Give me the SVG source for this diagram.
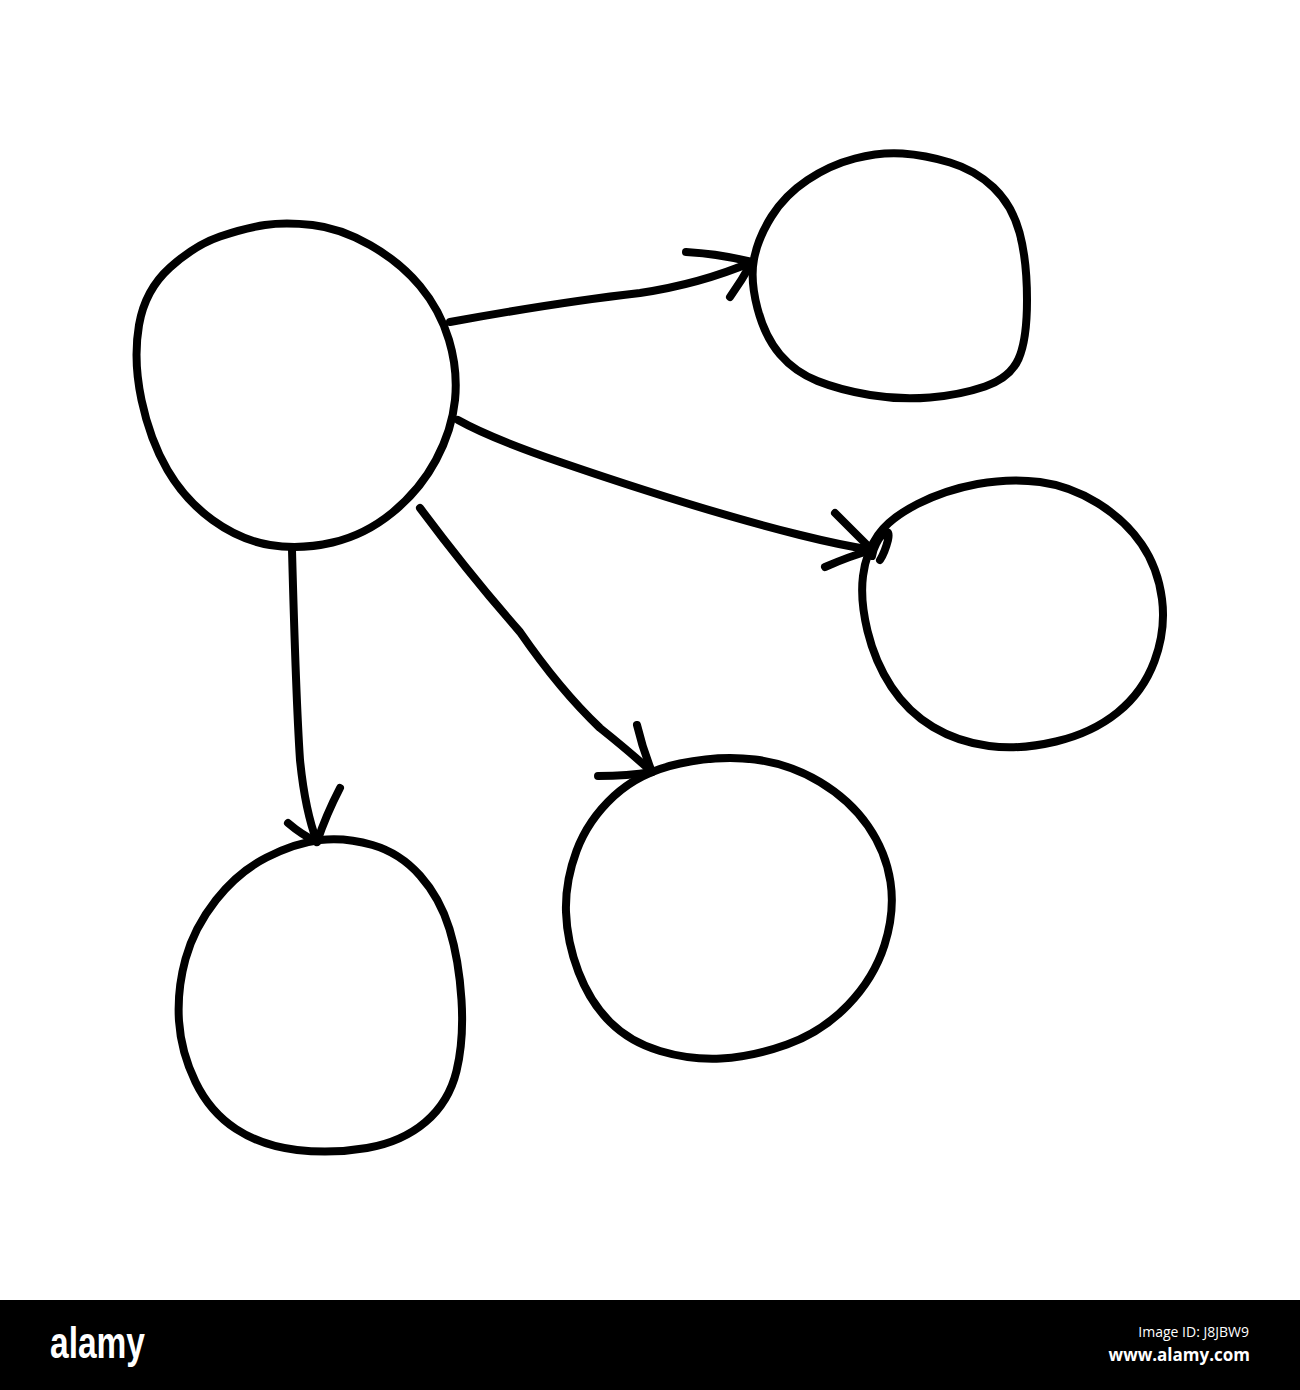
<svg xmlns="http://www.w3.org/2000/svg" width="1300" height="1390" viewBox="0 0 1300 1390">
<style>
.ink{fill:none;stroke:#000;stroke-width:8;stroke-linecap:round;stroke-linejoin:round}
.logo{fill:#fff;font-family:"Liberation Sans",Arial,sans-serif;font-weight:bold}
.meta{fill:#fff;font-family:"Open Sans","DejaVu Sans",sans-serif}
</style>
<rect width="1300" height="1390" fill="#fff"/>
<g id="node-center">
<path class="ink" d="M265,225 Q285,222 312.5,225 Q340,228 370,245 Q400,262 420,286 Q440,310 449,340 Q458,370 455,400 Q452,430 436,460 Q420,490 392.5,512.5 Q365,535 332.5,542.5 Q300,550 270,545 Q240,540 212.5,520 Q185,500 167.5,470 Q150,440 141.5,400 Q133,360 139,325 Q145,290 170,267.5 Q195,245 220,236.5 Q245,228 265,225 Z"/>
</g>
<g id="node-top-right">
<path class="ink" d="M855,158.5 Q880,152 902.5,153.5 Q925,155 950,162.5 Q975,170 993.5,187.5 Q1012,205 1019.5,232.5 Q1027,260 1027,300 Q1027,340 1018.5,359 Q1010,378 985,386.5 Q960,395 930,397.5 Q900,400 870,395 Q840,390 817.5,381 Q795,372 780,354.5 Q765,337 757.5,308.5 Q750,280 754,259 Q758,238 771.5,216.5 Q785,195 807.5,180 Q830,165 855,158.5 Z"/>
</g>
<g id="node-right">
<path class="ink" d="M977.5,484 Q1010,478 1040,482 Q1070,486 1097.5,503 Q1125,520 1141.5,544 Q1158,568 1162,599 Q1166,630 1154.5,661 Q1143,692 1117.5,712.5 Q1092,733 1056,741.5 Q1020,750 989,746 Q958,742 933,727 Q908,712 891.5,687 Q875,662 867.5,631 Q860,600 863,576 Q866,552 878,535 Q890,518 917.5,504 Q945,490 977.5,484 Z"/>
</g>
<g id="node-bottom-middle">
<path class="ink" d="M680,763.5 Q720,755 755,759.5 Q790,764 820,782 Q850,800 868,826 Q886,852 890.5,882 Q895,912 884.5,945 Q874,978 848,1005 Q822,1032 787,1044.5 Q752,1057 721,1058.5 Q690,1060 660,1051 Q630,1042 610,1022 Q590,1002 578.5,972 Q567,942 566,912 Q565,882 576.5,851 Q588,820 614,796 Q640,772 680,763.5 Z"/>
</g>
<g id="node-bottom-left">
<path class="ink" d="M320,840 Q345,837 372.5,845 Q400,853 420,875.5 Q440,898 449.5,929 Q459,960 461.5,1000 Q464,1040 456.5,1071 Q449,1102 425.5,1122 Q402,1142 367,1148 Q332,1154 297,1150 Q262,1146 236,1129 Q210,1112 195.5,1082 Q181,1052 179,1021 Q177,990 185.5,959 Q194,928 216,900 Q238,872 266.5,857.5 Q295,843 320,840 Z"/>
</g>
<g id="connectors">
<path class="ink" d="M450,322 Q560,302 640,293 Q700,284 752,262"/>
<path class="ink" d="M686,252 Q720,254 752,262 M730,297 Q742,280 752,262"/>
<path class="ink" d="M458,420 Q490,438 560,462 Q700,510 800,535 Q840,545 872,550"/>
<path class="ink" d="M835,513 L872,550 M825,567 Q850,556 872,550 M872,556 C875,538 892,522 888,540 C885,552 880,560 880,560"/>
<path class="ink" d="M420,508 Q470,575 520,632 Q560,690 600,728 Q630,752 652,772"/>
<path class="ink" d="M637,725 Q643,750 652,772 M598,776 Q628,776 652,772"/>
<path class="ink" d="M292,550 Q296,700 300,760 Q305,810 317,842"/>
<path class="ink" d="M340,788 Q326,815 317,842 M288,823 Q302,835 317,842"/>
</g>
<g id="footer">
<rect x="0" y="1300" width="1300" height="90" fill="#000"/>
<text class="logo" x="50" y="1358" font-size="44" textLength="95" lengthAdjust="spacingAndGlyphs">alamy</text>
<text class="meta" x="1249" y="1337" font-size="14" text-anchor="end">Image ID: J8JBW9</text>
<text class="meta" x="1250" y="1361" font-size="17" font-weight="bold" text-anchor="end">www.alamy.com</text>
</g>
</svg>
